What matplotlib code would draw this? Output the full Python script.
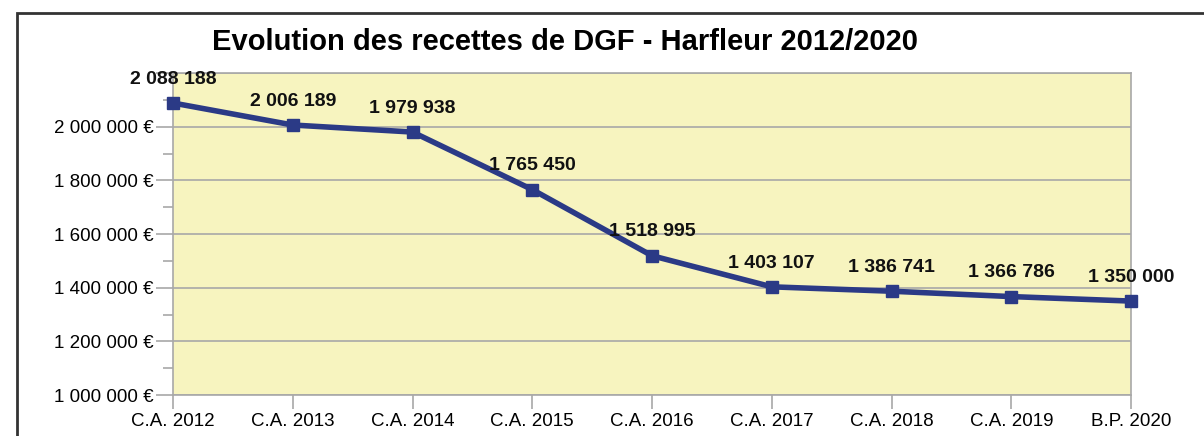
import numpy as np
import matplotlib.pyplot as plt
from matplotlib.patches import Rectangle
from matplotlib.ticker import FuncFormatter, MultipleLocator

plt.rcParams['font.family'] = ['Liberation Sans', 'DejaVu Sans']

categories = ["C.A. 2012", "C.A. 2013", "C.A. 2014", "C.A. 2015", "C.A. 2016",
              "C.A. 2017", "C.A. 2018", "C.A. 2019", "B.P. 2020"]
recettes = [2088188, 2006189, 1979938, 1765450, 1518995,
            1403107, 1386741, 1366786, 1350000]


def fr(v):
    return f"{int(v):,}".replace(",", " ")


fig = plt.figure(figsize=(12.04, 4.36), dpi=100)
ax = fig.add_axes([173 / 1204, 1 - 395 / 436, (1131 - 173) / 1204, (395 - 73) / 436])

line_col = '#2b3a86'
x = np.arange(len(categories))
ax.plot(x, recettes, color=line_col, linewidth=4, marker='s', markersize=9,
        solid_joinstyle='miter', zorder=3, clip_on=False)
for xi, v in zip(x, recettes):
    ax.annotate(fr(v), (xi, v), xytext=(0, 11), textcoords='offset points',
                ha='center', va='bottom', fontsize=14, fontweight='bold',
                color='#111111', zorder=4, annotation_clip=False)

ax.set_facecolor('#f7f4bf')
ax.set_xlim(0, len(categories) - 1)
ax.set_ylim(1000000, 2200000)
ax.yaxis.set_major_locator(MultipleLocator(200000))
ax.yaxis.set_minor_locator(MultipleLocator(100000))
ax.yaxis.set_major_formatter(FuncFormatter(lambda v, p: fr(v) + " €" if v < 2100000 else ""))
ax.set_xticks(x)
ax.set_xticklabels(categories)
ax.grid(axis='y', which='major', color='#a8a8a8', linewidth=1.2, zorder=1)
ax.set_axisbelow(True)
for s in ax.spines.values():
    s.set_color('#a8a8a8')
    s.set_linewidth(1.2)
ax.tick_params(axis='both', which='both', color='#a8a8a8', width=1.2, direction='out')
ax.tick_params(axis='y', which='major', length=12, labelsize=13.5, pad=2)
ax.tick_params(axis='y', which='minor', length=7)
ax.tick_params(axis='x', length=10, labelsize=13.5, pad=3)

fig.text(565 / 1204, 1 - 42 / 436, "Evolution des recettes de DGF - Harfleur 2012/2020",
         ha='center', va='center', fontsize=21, fontweight='bold')

fig.patches.append(Rectangle((17 / 1204, -0.1), 1.2, 1 - 13 / 436 + 0.1,
                             transform=fig.transFigure, fill=False,
                             edgecolor='#333333', linewidth=2))

fig.savefig('out.png', dpi=100)
